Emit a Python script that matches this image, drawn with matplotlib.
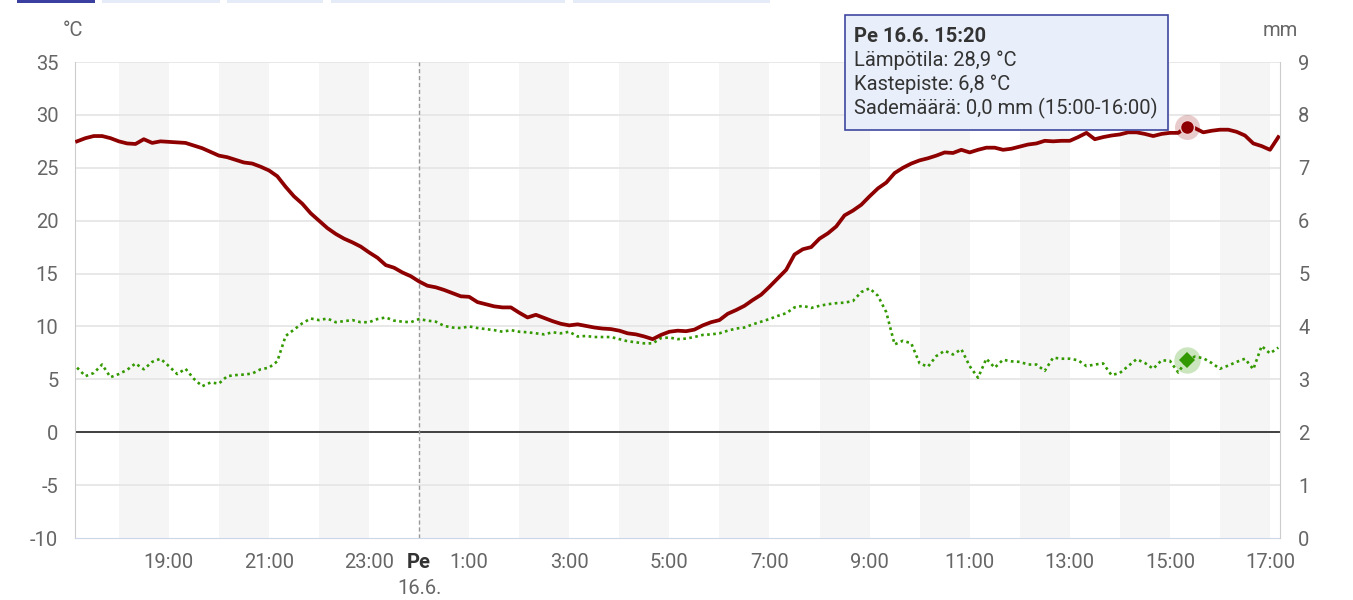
import matplotlib
matplotlib.use("Agg")
import matplotlib.pyplot as plt
import matplotlib.dates as mdates
import matplotlib.transforms as mtransforms
from matplotlib.patches import Rectangle
import pandas as pd

plt.rcParams["font.family"] = ["Roboto", "DejaVu Sans"]
plt.rcParams["axes.unicode_minus"] = False

# 10 minute observations, 15.6. 17:10 -> 16.6. 17:10
times = pd.date_range("2023-06-15 17:10", periods=145, freq="10min")

temp = [
    27.5, 27.8, 28.0, 28.0, 27.8, 27.5, 27.3, 27.25, 27.7, 27.35,
    27.5, 27.45, 27.4, 27.35, 27.1, 26.85, 26.5, 26.15, 26.0, 25.75,
    25.5, 25.4, 25.1, 24.75, 24.2, 23.2, 22.3, 21.6, 20.7, 20.0,
    19.3, 18.75, 18.3, 17.95, 17.55, 17.0, 16.5, 15.8, 15.55, 15.1,
    14.75, 14.25, 13.85, 13.7, 13.45, 13.15, 12.85, 12.8, 12.3, 12.1,
    11.9, 11.8, 11.8, 11.3, 10.85, 11.1, 10.8, 10.5, 10.25, 10.1,
    10.2, 10.05, 9.9, 9.8, 9.75, 9.6, 9.35, 9.25, 9.05, 8.8,
    9.2, 9.5, 9.6, 9.55, 9.7, 10.1, 10.4, 10.6, 11.2, 11.55,
    11.95, 12.5, 13.0, 13.75, 14.55, 15.35, 16.8, 17.3, 17.5, 18.3,
    18.8, 19.45, 20.5, 20.95, 21.5, 22.3, 23.05, 23.6, 24.5, 25.0,
    25.4, 25.7, 25.9, 26.15, 26.45, 26.4, 26.7, 26.45, 26.7, 26.9,
    26.9, 26.7, 26.8, 27.0, 27.2, 27.3, 27.55, 27.5, 27.55, 27.55,
    27.9, 28.3, 27.7, 27.9, 28.05, 28.15, 28.35, 28.35, 28.2, 28.0,
    28.2, 28.3, 28.3, 28.9, 28.75, 28.35, 28.5, 28.6, 28.6, 28.4,
    28.05, 27.3, 27.05, 26.7, 27.9,
]

dew = [
    6.1, 5.3, 5.6, 6.4, 5.2, 5.5, 5.9, 6.5, 5.95, 6.65,
    6.95, 6.25, 5.5, 6.0, 5.05, 4.35, 4.7, 4.6, 5.3, 5.4,
    5.45, 5.55, 5.95, 6.1, 6.7, 9.1, 9.7, 10.3, 10.75, 10.6,
    10.75, 10.4, 10.5, 10.6, 10.4, 10.4, 10.7, 10.85, 10.55, 10.45,
    10.4, 10.7, 10.55, 10.45, 10.05, 9.9, 9.85, 10.0, 9.85, 9.75,
    9.65, 9.5, 9.65, 9.5, 9.45, 9.35, 9.25, 9.45, 9.35, 9.5,
    9.05, 9.1, 9.0, 9.0, 9.0, 8.8, 8.6, 8.5, 8.4, 8.4,
    8.9, 8.95, 8.8, 8.85, 9.0, 9.2, 9.25, 9.35, 9.6, 9.8,
    9.9, 10.2, 10.45, 10.7, 11.0, 11.25, 11.8, 11.95, 11.75, 11.95,
    12.1, 12.2, 12.25, 12.4, 13.25, 13.6, 12.9, 11.35, 8.3, 8.65,
    8.4, 6.5, 6.2, 7.2, 7.7, 7.35, 7.85, 6.25, 5.15, 6.95,
    6.1, 6.85, 6.7, 6.65, 6.4, 6.4, 5.8, 7.05, 6.95, 6.95,
    6.8, 6.25, 6.4, 6.5, 5.4, 5.6, 6.25, 6.9, 6.55, 6.0,
    6.8, 6.75, 5.65, 6.8, 7.15, 7.0, 6.55, 6.0, 6.3, 6.65,
    6.95, 5.95, 8.15, 7.45, 8.0,
]

hover_time = pd.Timestamp("2023-06-16 15:20")
hover_temp = 28.9
hover_dew = 6.8
midnight = pd.Timestamp("2023-06-16 00:00")

tick_hours = pd.date_range("2023-06-15 19:00", "2023-06-16 17:00", freq="2h")
tick_labels = [f"{t.hour}:00" for t in tick_hours]
band_starts = pd.date_range("2023-06-15 18:00", "2023-06-16 16:00", freq="2h")

tooltip_lines = [
    "Lämpötila: 28,9 °C",
    "Kastepiste: 6,8 °C",
    "Sademäärä: 0,0 mm (15:00-16:00)",
]

GREY = "#666666"
RED = "#8e0000"
GREEN = "#339900"
FS = 14.5

fig = plt.figure(figsize=(13.53, 6), dpi=100)
ax = fig.add_axes([75 / 1353, 62 / 600, 1205 / 1353, 476 / 600])

# alternating hour bands
for s in band_starts:
    ax.axvspan(s, s + pd.Timedelta(hours=1), color="#f5f5f5", lw=0, zorder=0)

for v in range(-5, 36, 5):
    ax.axhline(v, color="#e6e6e6", lw=1.3, zorder=1)
ax.axhline(0, color="#333333", lw=1.3, zorder=2)
ax.axvline(midnight, color="#999999", lw=1, ls=(0, (3, 2)), zorder=2)

ax.plot(times, dew, color=GREEN, lw=1.9, ls=(0, (1, 1.3)), zorder=3)
ax.plot(times, temp, color=RED, lw=2.7, zorder=4, solid_joinstyle="round")

# hover markers
ax.plot([hover_time], [hover_temp], "o", ms=18, color=RED, alpha=0.2, mew=0, zorder=5)
ax.plot([hover_time], [hover_temp], "o", ms=10, color=RED, mec="#f0d0d0", mew=1, zorder=6)
ax.plot([hover_time], [hover_dew], "o", ms=19, color=GREEN, alpha=0.25, mew=0, zorder=5)
ax.plot([hover_time], [hover_dew], "D", ms=8, color=GREEN, mew=0, zorder=6)

ax.set_xlim(times[0] - pd.Timedelta(minutes=2.5), times[-1] + pd.Timedelta(minutes=2))
ax.set_ylim(-10, 35)
ax.set_yticks(range(-10, 36, 5))
ax.set_xticks(list(tick_hours))
ax.set_xticklabels(tick_labels)
ax.tick_params(axis="both", length=0, labelsize=FS, labelcolor=GREY)
ax.tick_params(axis="x", pad=11)
ax.tick_params(axis="y", pad=12)

for side in ["top", "right"]:
    ax.spines[side].set_visible(False)
ax.spines["left"].set_color("#cccccc")
ax.spines["bottom"].set_color("#ccd6eb")

ax2 = ax.twinx()
ax2.set_ylim(0, 9)
ax2.set_yticks(range(0, 10))
ax2.tick_params(axis="y", length=0, labelsize=FS, labelcolor=GREY, pad=13)
for side in ["top", "left", "bottom"]:
    ax2.spines[side].set_visible(False)
ax2.spines["right"].set_color("#cccccc")

# midnight label
trans = mtransforms.blended_transform_factory(ax.transData, ax.transAxes)
ax.annotate("Pe", xy=(mdates.date2num(midnight), 0), xycoords=trans,
            xytext=(0, -11), textcoords="offset points", ha="center", va="top",
            fontsize=FS, fontweight="bold", color="#333333")
ax.annotate("16.6.", xy=(mdates.date2num(midnight), 0), xycoords=trans,
            xytext=(0, -29.5), textcoords="offset points", ha="center", va="top",
            fontsize=FS, color=GREY)

# axis units
fig.text(73 / 1353, 1 - 31 / 600, "°C", fontsize=FS, color=GREY, ha="center", va="center")
fig.text(1280 / 1353, 1 - 31 / 600, "mm", fontsize=FS, color=GREY, ha="center", va="center")

# tooltip
fig.add_artist(Rectangle((845 / 1353, 1 - 130 / 600), 323 / 1353, 115 / 600,
                         transform=fig.transFigure, fc="#e9effa", ec="#3f48a0", lw=1.2))
fig.text(854 / 1353, 1 - 36 / 600, "Pe 16.6. 15:20", fontsize=FS, fontweight="bold",
         color="#333333", va="center")
for k, line in enumerate(tooltip_lines):
    fig.text(854 / 1353, 1 - (60 + 24 * k) / 600, line, fontsize=FS,
             color="#333333", va="center")

# cut-off tabs at the top edge
fig.add_artist(Rectangle((17 / 1353, 1 - 3 / 600), 78 / 1353, 3 / 600,
                         transform=fig.transFigure, color="#3b40a0", lw=0))
for x0, x1 in [(102, 220), (227, 323), (331, 565), (573, 770)]:
    fig.add_artist(Rectangle((x0 / 1353, 1 - 3 / 600), (x1 - x0) / 1353, 3 / 600,
                             transform=fig.transFigure, color="#e6ecf7", lw=0))

fig.savefig("out.png", dpi=100)
